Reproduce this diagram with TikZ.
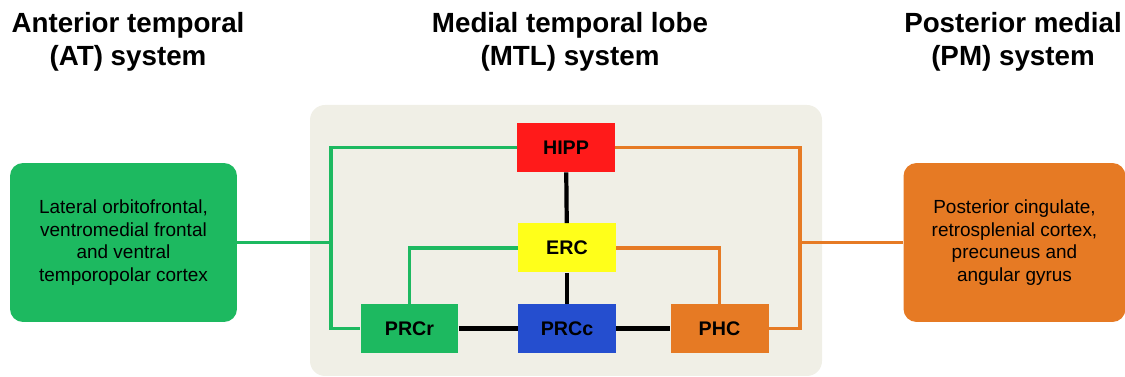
\documentclass[tikz,border=0pt]{standalone}
\usepackage{fontspec}
\setmainfont{Liberation Sans}
\definecolor{atgreen}{RGB}{29,185,96}
\definecolor{pmorange}{RGB}{230,122,36}
\definecolor{hippred}{RGB}{255,26,26}
\definecolor{ercyellow}{RGB}{255,255,26}
\definecolor{prccblue}{RGB}{37,78,207}
\definecolor{panelgray}{RGB}{240,239,230}

\begin{document}
\begin{tikzpicture}[x=0.02cm, y=-0.02cm,
  title/.style={align=center, font=\fontsize{15.8}{18.7}\selectfont\bfseries},
  sysbox/.style={rounded corners=0.26cm, minimum width=4.54cm, minimum height=3.18cm,
    align=center, font=\fontsize{10.8}{12.9}\selectfont},
  region/.style={minimum width=1.96cm, minimum height=0.98cm, inner sep=0pt,
    font=\fontsize{11.2}{13}\selectfont\bfseries},
  gline/.style={draw=atgreen, line width=2pt},
  oline/.style={draw=pmorange, line width=2pt},
  kline/.style={draw=black, line width=2.4pt}]
\useasboundingbox (0,0) rectangle (1125,377);
% titles
\node (attitle) at (128,41.5) [title] {Anterior temporal\\(AT) system};
\node (mtltitle) at (570,41.5) [title] {Medial temporal lobe\\(MTL) system};
\node (pmtitle) at (1013,41.5) [title] {Posterior medial\\(PM) system};
% MTL panel
\fill [panelgray, rounded corners=0.3cm] (310,105) rectangle (822,376);
% side systems
\node (atbox) at (123.5,242.5) [sysbox, fill=atgreen] {Lateral orbitofrontal,\\ventromedial frontal\\and ventral\\temporopolar cortex};
\node (pmbox) at (1014.5,242.5) [sysbox, minimum width=4.44cm, fill=pmorange] {Posterior cingulate,\\retrosplenial cortex,\\precuneus and\\angular gyrus};
% MTL regions
\node (hipp) at (566,147.5) [region, fill=hippred] {HIPP};
\node (erc) at (567,248) [region, fill=ercyellow] {ERC};
\node (prcc) at (567,328.5) [region, fill=prccblue] {PRCc};
\node (prcr) at (409.5,328.5) [region, fill=atgreen] {PRCr};
\node (phc) at (719.5,328.5) [region, fill=pmorange] {PHC};
\coordinate (lft) at (331,147.5);
\coordinate (rgt) at (800,147.5);
% AT pathway
\draw [gline] (hipp.west) -- (lft) |- (prcr.west);
\draw [gline] (atbox.east) -- (atbox.east -| lft);
\draw [gline] (erc.west) -| (prcr.north);
% PM pathway
\draw [oline] (hipp.east) -- (rgt) |- (phc.east);
\draw [oline] (pmbox.west) -- (pmbox.west -| rgt);
\draw [oline] (erc.east) -| (phc.north);
% MTL links
\draw [kline] (hipp) -- (erc);
\draw [kline] (erc) -- (prcc);
\draw [kline] (prcr) -- (prcc);
\draw [kline] (prcc) -- (phc);
\end{tikzpicture}
\end{document}
